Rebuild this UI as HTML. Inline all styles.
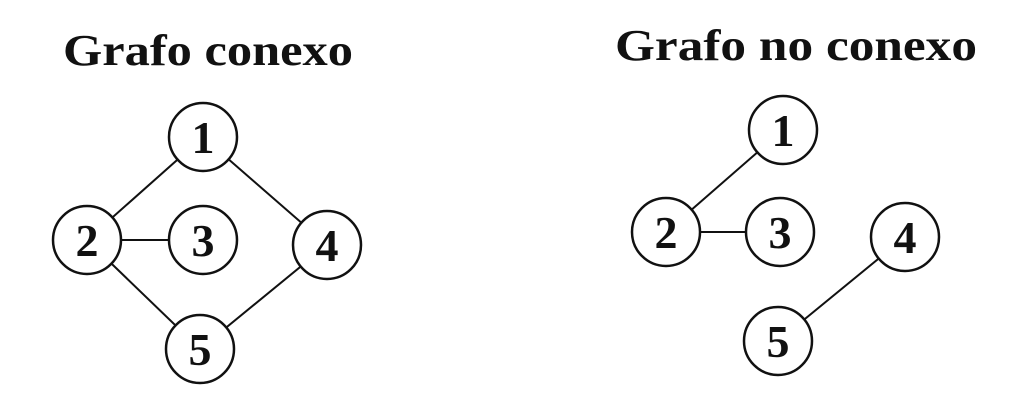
<!DOCTYPE html>
<html><head><meta charset="utf-8"><style>
html,body{margin:0;padding:0;background:#fff;width:1024px;height:413px;overflow:hidden}
svg text{font-family:"Liberation Serif",serif;font-weight:bold;fill:#111}
</style></head><body>
<svg id="s" width="1024" height="413" viewBox="0 0 1024 413">
<text x="208" y="65" font-size="44" text-anchor="middle" textLength="290" lengthAdjust="spacingAndGlyphs">Grafo conexo</text>
<text x="796" y="60" font-size="44" text-anchor="middle" textLength="362" lengthAdjust="spacingAndGlyphs">Grafo no conexo</text>
<g id="g"></g>
</svg>
<script>
const leftNodes = [["1",203,137],["2",87,240],["3",203,240],["4",327,245],["5",200,349]];
const leftEdges = [["1","2"],["2","3"],["1","4"],["2","5"],["5","4"]];
const rightNodes = [["1",783,130],["2",666,232],["3",780,232],["4",905,237],["5",778,341]];
const rightEdges = [["1","2"],["2","3"],["5","4"]];
const NS="http://www.w3.org/2000/svg";
const g=document.getElementById('g');
function draw(nodes,edges,side){
  const m={};nodes.forEach(n=>m[n[0]]=n);
  edges.forEach(e=>{
    const a=m[e[0]],b=m[e[1]];
    const l=document.createElementNS(NS,'line');
    l.setAttribute('x1',a[1]);l.setAttribute('y1',a[2]);l.setAttribute('x2',b[1]);l.setAttribute('y2',b[2]);
    l.setAttribute('stroke','#111');l.setAttribute('stroke-width','2');
    
    
    g.appendChild(l);
  });
  nodes.forEach(n=>{
    const c=document.createElementNS(NS,'circle');
    c.setAttribute('cx',n[1]);c.setAttribute('cy',n[2]);c.setAttribute('r','34');
    c.setAttribute('fill','#fff');c.setAttribute('stroke','#111');c.setAttribute('stroke-width','2.5');
    
    
    g.appendChild(c);
    const t=document.createElementNS(NS,'text');
    t.setAttribute('x',n[1]);t.setAttribute('y',n[2]+16);t.setAttribute('font-size','46');t.setAttribute('text-anchor','middle');
    t.textContent=n[0];
    
    
    g.appendChild(t);
  });
}
draw(leftNodes,leftEdges,'left');
draw(rightNodes,rightEdges,'right');
</script>
</body></html>
